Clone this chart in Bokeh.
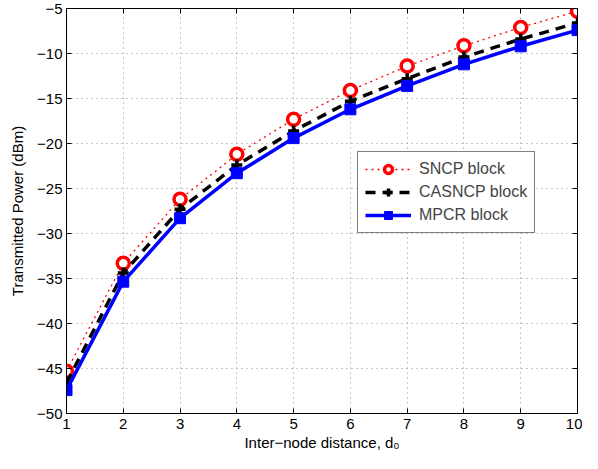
from bokeh.plotting import figure
from bokeh.models import Range1d, FixedTicker, LinearAxis, Legend, LegendItem, CustomLabelingPolicy
from bokeh.embed import file_html
from bokeh.resources import INLINE

distance = [1, 2, 3, 4, 5, 6, 7, 8, 9, 10]
sncp = [-45.3, -33.3, -26.2, -21.2, -17.3, -14.1, -11.4, -9.15, -7.1, -5.3]
casncp = [-46.6, -34.4, -27.3, -22.4, -18.6, -15.3, -12.8, -10.4, -8.4, -6.6]
mpcr = [-47.4, -35.35, -28.3, -23.3, -19.4, -16.2, -13.6, -11.2, -9.2, -7.4]
x_ticks = [1, 2, 3, 4, 5, 6, 7, 8, 9, 10]
y_ticks = [-50, -45, -40, -35, -30, -25, -20, -15, -10, -5]

FONT = "Liberation Sans"

p = figure(width=582, height=453, output_backend="svg", toolbar_location=None,
           x_range=Range1d(1, 10), y_range=Range1d(-50, -5),
           min_border_left=66, min_border_right=3, min_border_top=8, min_border_bottom=39)

p.outline_line_color = "black"
p.outline_line_width = 1
p.background_fill_color = "white"
p.border_fill_color = "white"

for ax in [p.xaxis[0], p.yaxis[0]]:
    ax.major_tick_in = 5
    ax.major_tick_out = 0
    ax.minor_tick_line_color = None
    ax.axis_line_color = "black"
    ax.major_label_text_font = FONT
    ax.major_label_text_font_size = "15px"
    ax.major_label_text_color = "black"
    ax.axis_label_text_font = FONT
    ax.axis_label_text_font_size = "15px"
    ax.axis_label_text_font_style = "normal"
    ax.axis_label_text_color = "black"

p.xaxis[0].ticker = FixedTicker(ticks=x_ticks)
p.yaxis[0].ticker = FixedTicker(ticks=y_ticks)
p.yaxis[0].major_label_overrides = {t: ("\u2212" + str(-t)) for t in y_ticks}
p.xaxis[0].major_label_standoff = 5
p.yaxis[0].major_label_standoff = 4
p.xaxis[0].axis_label = "Inter\u2212node distance, d\u2080"
p.yaxis[0].axis_label = "Transmitted Power (dBm)"
p.xaxis[0].axis_label_standoff = 2
p.yaxis[0].axis_label_standoff = 8

code = "for (const i of [...indices]) indices.unset(i); return indices"
top = LinearAxis(ticker=FixedTicker(ticks=x_ticks), major_label_policy=CustomLabelingPolicy(code=code),
                 major_tick_in=5, major_tick_out=0, minor_tick_line_color=None,
                 major_label_standoff=0, major_label_text_font_size="1px")
right = LinearAxis(ticker=FixedTicker(ticks=y_ticks), major_label_policy=CustomLabelingPolicy(code=code),
                   major_tick_in=5, major_tick_out=0, minor_tick_line_color=None,
                   major_label_standoff=0, major_label_text_font_size="1px")
p.add_layout(top, "above")
p.add_layout(right, "right")

p.xgrid.ticker = FixedTicker(ticks=x_ticks)
p.ygrid.ticker = FixedTicker(ticks=y_ticks)
for g in [p.xgrid[0], p.ygrid[0]]:
    g.grid_line_color = "#8c8c8c"
    g.grid_line_dash = "1 4"
    g.grid_line_width = 1

r1l = p.line(distance, sncp, line_color="red", line_width=1.3, line_dash="2 4")
r1m = p.scatter(distance, sncp, marker="circle", size=12, line_color="red", line_width=3.5, fill_color="white")
r2l = p.line(distance, casncp, line_color="black", line_width=3.5, line_dash="10 7")
r2m = p.scatter(distance, casncp, marker="cross", size=11, line_color="black", line_width=3.5)
r3l = p.line(distance, mpcr, line_color="blue", line_width=3.5)
r3m = p.scatter(distance, mpcr, marker="square", size=11, line_color="blue", fill_color="blue", line_width=1)

legend = Legend(items=[
    LegendItem(label="SNCP block", renderers=[r1l, r1m]),
    LegendItem(label="CASNCP block", renderers=[r2l, r2m]),
    LegendItem(label="MPCR block", renderers=[r3l, r3m]),
], location=(291, 180))
legend.label_text_font = FONT
legend.label_text_font_size = "16px"
legend.border_line_color = "black"
legend.border_line_width = 1
legend.glyph_width = 46
legend.glyph_height = 20
legend.label_height = 20
legend.spacing = 3
legend.padding = 7
legend.margin = 0
legend.label_standoff = 8
legend.background_fill_alpha = 1
p.add_layout(legend, "center")

open("out.html", "w").write(file_html(p, INLINE))
